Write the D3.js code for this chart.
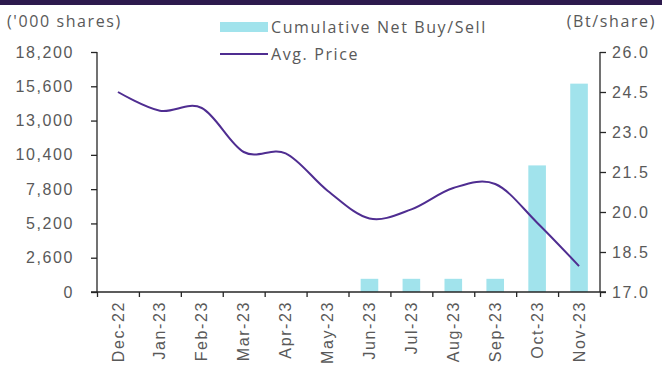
<!DOCTYPE html>
<html>
<head>
<meta charset="utf-8">
<script src="https://cdn.jsdelivr.net/npm/d3@7"></script>
<style>
  html, body { margin: 0; padding: 0; background: #fff; }
  svg { display: block; font-family: "Open Sans", "Noto Sans", sans-serif; }
  svg text { letter-spacing: 1.6px; }
  .axis path, .axis line { stroke: #262626; stroke-width: 1.3; }
  .axis text { fill: #595959; font-size: 16px; }
  .lbl { fill: #595959; font-size: 16px; }
</style>
</head>
<body>
<svg id="chart" width="662" height="381"></svg>
<script>
// Monthly categories
const months = ["Dec-22","Jan-23","Feb-23","Mar-23","Apr-23","May-23",
                "Jun-23","Jul-23","Aug-23","Sep-23","Oct-23","Nov-23"];
// Cumulative net buy/sell ('000 shares)
const netBuySell = [0, 0, 0, 0, 0, 0, 1000, 1000, 1000, 1000, 9600, 15800];
// Average price (Bt/share)
const avgPrice = [24.5, 23.8, 23.9, 22.25, 22.2, 20.8, 19.76, 20.1, 20.9, 21.05, 19.6, 17.97];
// Axis ticks
const leftTicks = [0, 2600, 5200, 7800, 10400, 13000, 15600, 18200];
const rightTicks = [17.0, 18.5, 20.0, 21.5, 23.0, 24.5, 26.0];

const svg = d3.select("#chart");
const W = 662, H = 381;
const plotL = 97, plotR = 600, plotT = 52, plotB = 292;

// Header band
svg.append("rect").attr("x", 0).attr("y", 0).attr("width", W).attr("height", 5)
  .attr("fill", "#2d1a4d");

const x = d3.scaleBand().domain(months).range([plotL, plotR]).padding(0);
const xIdx = d3.scaleLinear().domain([0, months.length]).range([plotL, plotR]);
const yL = d3.scaleLinear().domain([0, 18200]).range([plotB, plotT]);
const yR = d3.scaleLinear().domain([17, 26]).range([plotB, plotT]);

// Bars
const barW = x.bandwidth() * 0.42;
svg.append("g").selectAll("rect")
  .data(months.map((m, i) => ({ m, v: netBuySell[i] })).filter(d => d.v > 0))
  .join("rect")
  .attr("x", d => x(d.m) + (x.bandwidth() - barW) / 2)
  .attr("width", barW)
  .attr("y", d => yL(d.v))
  .attr("height", d => yL(0) - yL(d.v))
  .attr("fill", "#a1e3ec");

// Left axis
const gL = svg.append("g").attr("class", "axis")
  .attr("transform", `translate(${plotL},0)`)
  .call(d3.axisLeft(yL).tickValues(leftTicks).tickFormat(d3.format(",")).tickSize(6).tickPadding(17).tickSizeOuter(0));
gL.select(".domain").remove();
gL.append("line").attr("x1", 0).attr("x2", 0).attr("y1", plotT).attr("y2", plotB)
  .attr("stroke", "#262626").attr("stroke-width", 1.3);

// Right axis
const gR = svg.append("g").attr("class", "axis")
  .attr("transform", `translate(${plotR},0)`)
  .call(d3.axisRight(yR).tickValues(rightTicks).tickFormat(d3.format(".1f")).tickSize(6).tickPadding(6).tickSizeOuter(0));
gR.select(".domain").remove();
gR.append("line").attr("x1", 0).attr("x2", 0).attr("y1", plotT).attr("y2", plotB)
  .attr("stroke", "#262626").attr("stroke-width", 1.3);

// Bottom axis: tick marks at category boundaries
const gB = svg.append("g").attr("class", "axis")
  .attr("transform", `translate(0,${plotB})`)
  .call(d3.axisBottom(xIdx).tickValues(d3.range(months.length + 1)).tickFormat("").tickSize(5).tickSizeOuter(0));
gB.select(".domain").remove();
gB.append("line").attr("x1", plotL - 6).attr("x2", plotR + 6).attr("y1", 0).attr("y2", 0)
  .attr("stroke", "#262626").attr("stroke-width", 1.3);

// Bottom axis: rotated month labels
const gBL = svg.append("g").attr("class", "axis")
  .attr("transform", `translate(0,${plotB})`)
  .call(d3.axisBottom(x).tickSize(0).tickSizeOuter(0));
gBL.select(".domain").remove();
gBL.selectAll("text")
  .attr("transform", "rotate(-90)")
  .attr("text-anchor", "end")
  .attr("x", -9).attr("y", 0).attr("dy", "0.35em");

// Price line
const line = d3.line()
  .x((d, i) => x(months[i]) + x.bandwidth() / 2)
  .y(d => yR(d))
  .curve(d3.curveCatmullRom.alpha(0));
svg.append("path").datum(avgPrice)
  .attr("d", line)
  .attr("fill", "none")
  .attr("stroke", "#4f2d91")
  .attr("stroke-width", 2);

// Axis titles
svg.append("text").attr("class", "lbl").attr("x", 7).attr("y", 27).text("('000 shares)");
svg.append("text").attr("class", "lbl").attr("x", 656).attr("y", 27)
  .attr("text-anchor", "end").text("(Bt/share)");

// Legend
const lg = svg.append("g");
lg.append("rect").attr("x", 220).attr("y", 22).attr("width", 48).attr("height", 10).attr("fill", "#a1e3ec");
lg.append("text").attr("class", "lbl").attr("x", 271).attr("y", 33).text("Cumulative Net Buy/Sell");
lg.append("line").attr("x1", 220).attr("x2", 268).attr("y1", 54).attr("y2", 54)
  .attr("stroke", "#4f2d91").attr("stroke-width", 2);
lg.append("text").attr("class", "lbl").attr("x", 271).attr("y", 60).text("Avg. Price");
</script>
</body>
</html>
